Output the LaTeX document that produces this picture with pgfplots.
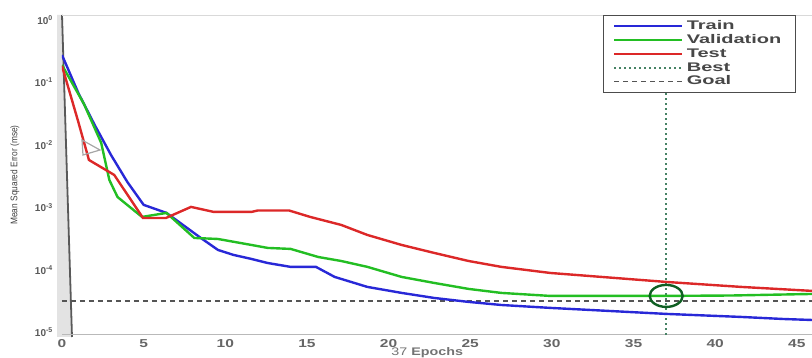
\documentclass[border=0pt]{standalone}
\usepackage{pgfplots}
\pgfplotsset{compat=1.18}
\usepackage{fontspec}
\setmainfont{Liberation Sans}
\newfontfamily\legfont[FakeStretch=1.6]{Liberation Sans}
\newfontfamily\tickfont[FakeStretch=1.35, Color=666666]{Liberation Sans}
\newfontfamily\ytickfont[Color=595959]{Liberation Sans}
\newfontfamily\xlfont[FakeStretch=1.3, Color=737373]{Liberation Sans}
\newfontfamily\ylfont[FakeStretch=0.87, Color=404040]{Liberation Sans}
\definecolor{trainc}{RGB}{40,40,215}
\definecolor{valc}{RGB}{35,190,35}
\definecolor{testc}{RGB}{220,40,40}
\definecolor{bestc}{RGB}{70,130,100}
\definecolor{goalc}{RGB}{85,85,85}
\definecolor{circc}{RGB}{15,95,35}
\newcommand{\ytl}[1]{10\textsuperscript{#1}}
\begin{document}
\begin{tikzpicture}
\useasboundingbox (0,0) rectangle (812pt,358pt);
\fill[gray!22] (57pt,343pt) -- (62pt,343pt) -- (72pt,21pt) -- (57pt,21pt) -- cycle;
\draw[gray!70!black, line width=1.8pt] (62pt,343pt) -- (72pt,21pt);
\draw[gray!30, line width=0.8pt] (62pt,343pt) -- (812pt,343pt);
\draw[gray!55, line width=1pt] (62pt,23pt) -- (812pt,23pt);
\begin{axis}[
  at={(62pt,23pt)}, anchor=south west,
  scale only axis, width=750pt, height=320pt,
  ymode=log, xmin=0, xmax=45.93, ymin=9.1e-6, ymax=1.2,
  axis line style={draw=none},
  major tick length=0pt, minor tick length=0pt,
  ytick={1,0.1,0.01,0.001,0.0001,0.00001},
  yticklabels={\ytl{0},\ytl{-1},\ytl{-2},\ytl{-3},\ytl{-4},\ytl{-5}},
  yticklabel style={font=\ytickfont\fontsize{10}{11}\selectfont\bfseries, anchor=east, inner sep=0pt, xshift=-9pt},
  xtick={0,5,10,15,20,25,30,35,40,45},
  xticklabels={0,5,10,15,20,25,30,35,40,45},
  xticklabel style={font=\tickfont\fontsize{11.5}{12}\selectfont\bfseries, anchor=north, inner sep=0pt, yshift=-4pt},
  xlabel={37 \textbf{Epochs}},
  xlabel style={at={(axis description cs:0.487,-0.064)}, anchor=base, font=\xlfont\fontsize{11}{12}\selectfont},
  ylabel={Mean Squared Error (mse)},
  ylabel style={at={(axis description cs:-0.0627,0.5)}, anchor=center, font=\ylfont\fontsize{9.6}{10}\selectfont},
  legend style={at={(axis description cs:0.978,1.0)}, anchor=north east, draw=black!70, fill=white, inner xsep=10pt, inner ysep=4pt, font=\legfont\fontsize{12.5}{13}\selectfont\bfseries, text=black!72, nodes={inner ysep=0.7pt, inner xsep=4pt, text height=9.5pt, text depth=3pt}},
  legend cell align=left,
  legend image code/.code={\draw[#1] (0pt,0pt) -- (68pt,0pt);},
]
\addplot[bestc, line width=1.6pt, dash pattern=on 2pt off 3pt, forget plot] coordinates {(37,9.1e-6) (37,1.2)};
\addplot[goalc, line width=1.3pt, dash pattern=on 5pt off 4pt, forget plot] coordinates {(0,3.19e-5) (45.93,3.19e-5)};
\addplot[trainc, line width=2.4pt, forget plot] coordinates {
(0,0.275) (1,0.0679) (2,0.0209) (3,6.92e-3) (4,2.56e-3) (5,1.10e-3) (6.4,8.17e-4)
(8.5,3.25e-4) (9.55,2.09e-4) (10.5,1.74e-4) (11.6,1.50e-4) (12.6,1.29e-4) (14,1.12e-4)
(15.55,1.12e-4) (16.7,7.73e-5) (18.7,5.35e-5) (20.8,4.29e-5) (22.8,3.56e-5) (24.9,3.08e-5)
(26.9,2.75e-5) (29.9,2.47e-5) (37,1.98e-5) (41.6,1.77e-5) (44.2,1.64e-5) (46,1.58e-5)};
\addplot[valc, line width=2.4pt, forget plot] coordinates {
(0,0.19) (1.35,0.045) (2.4,0.0108) (2.9,2.75e-3) (3.4,1.47e-3) (4.9,7.05e-4) (6.4,8.17e-4)
(8.1,3.25e-4) (9.55,3.13e-4) (11.6,2.51e-4) (12.6,2.25e-4) (14,2.17e-4) (15.7,1.61e-4)
(17.1,1.39e-4) (18.7,1.12e-4) (20.8,7.73e-5) (22.8,6.19e-5) (24.9,4.97e-5) (26.9,4.29e-5)
(29.9,3.84e-5) (37,3.84e-5) (41,3.9e-5) (46,4.13e-5)};
\addplot[testc, line width=2.4pt, forget plot] coordinates {
(0,0.184) (1,0.0233) (1.65,5.75e-3) (3.2,3.31e-3) (4.96,6.79e-4) (6.37,6.79e-4) (7.9,1.02e-3)
(9.3,8.47e-4) (11.6,8.47e-4) (12,8.95e-4) (13.9,8.95e-4) (15.2,7.05e-4) (17.1,5.25e-4)
(18.7,3.63e-4) (20.8,2.51e-4) (22.8,1.87e-4) (24.9,1.39e-4) (26.9,1.12e-4) (29.9,8.95e-5)
(37,6.43e-5) (41.6,5.35e-5) (46,4.61e-5)};
\addplot[circc, only marks, mark=o, mark size=11pt, mark options={line width=2.4pt, xscale=1.5}, forget plot] coordinates {(37,3.84e-5)};
\addlegendimage{trainc, line width=1.6pt}
\addlegendentry{Train}
\addlegendimage{valc, line width=1.6pt}
\addlegendentry{Validation}
\addlegendimage{testc, line width=1.6pt}
\addlegendentry{Test}
\addlegendimage{bestc, line width=1.4pt, dash pattern=on 2pt off 3pt}
\addlegendentry{Best}
\addlegendimage{goalc, line width=1.2pt, dash pattern=on 5pt off 4pt}
\addlegendentry{Goal}
\end{axis}
\draw[gray!70, line width=1.2pt] (82pt,218pt) -- (100pt,208pt) -- (83pt,203pt) -- cycle;
\end{tikzpicture}
\end{document}
